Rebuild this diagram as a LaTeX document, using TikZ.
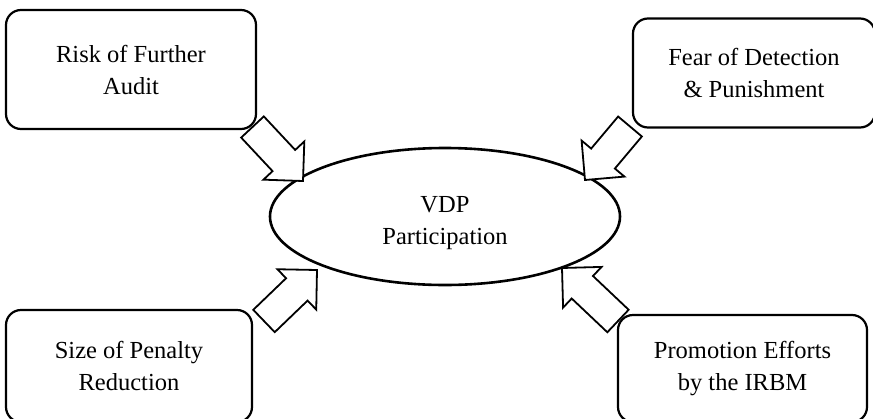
\documentclass[tikz,border=0pt]{standalone}
\usepackage{fontspec}
\setmainfont{Liberation Serif}
\usetikzlibrary{calc,shapes.geometric}
\tikzset{
  factorbox/.style={draw=black, line width=2.2pt, rounded corners=15pt, inner sep=0pt,
    font=\fontsize{24.5}{32}\selectfont, align=center},
  centre/.style={draw=black, line width=2.6pt, ellipse, inner sep=0pt},
  centretext/.style={inner sep=0pt, font=\fontsize{24.5}{32}\selectfont, align=center},
  blockarrow/.style={draw=black, line width=1.8pt, fill=white, line join=miter}
}
\newcommand{\blockarrowdraw}[2]{%
  \draw[blockarrow]
    (#1)
    -- ($($(#1)!28pt!(#2)$)!28pt!90:(#1)$)
    -- ($($(#1)!28pt!(#2)$)!15.5pt!90:(#1)$)
    -- ($(#2)!15.5pt!90:(#1)$)
    -- ($(#2)!15.5pt!-90:(#1)$)
    -- ($($(#1)!28pt!(#2)$)!15.5pt!-90:(#1)$)
    -- ($($(#1)!28pt!(#2)$)!28pt!-90:(#1)$)
    -- cycle;}
\begin{document}
\begin{tikzpicture}[x=1pt,y=-1pt]
\useasboundingbox (0,0) rectangle (873,418);
\clip (0,0) rectangle (873,418);
\fill[white] (0,0) rectangle (873,418);

\node[factorbox, minimum width=250pt, minimum height=119pt] (audit) at (131,69.5) {Risk of Further\\Audit};
\node[factorbox, minimum width=242pt, minimum height=109pt] (fear) at (754,73) {Fear of Detection\\\& Punishment};
\node[factorbox, minimum width=246pt, minimum height=112pt] (penalty) at (129,366) {Size of Penalty\\Reduction};
\node[factorbox, minimum width=249pt, minimum height=107pt] (promo) at (742.5,368.5) {Promotion Efforts\\by the IRBM};

\node[centre, minimum width=350pt, minimum height=137pt] (vdp) at (445,216.5) {};
\node[centretext] (vdplabel) at (445,223) {VDP\\Participation};

\coordinate (a1tip) at (303,181);
\coordinate (a1tail) at (252.5,127);
\coordinate (a2tip) at (585,180);
\coordinate (a2tail) at (630,126.5);
\coordinate (a3tip) at (317,270);
\coordinate (a3tail) at (264,321);
\coordinate (a4tip) at (562,268);
\coordinate (a4tail) at (618,321);

\blockarrowdraw{a1tip}{a1tail}
\blockarrowdraw{a2tip}{a2tail}
\blockarrowdraw{a3tip}{a3tail}
\blockarrowdraw{a4tip}{a4tail}
\end{tikzpicture}
\end{document}
